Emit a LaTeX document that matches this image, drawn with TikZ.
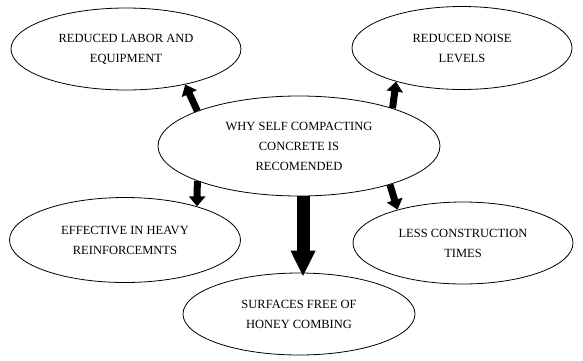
\documentclass[tikz,border=0pt]{standalone}
\usepackage{fontspec}
\setmainfont{Liberation Serif}
\usetikzlibrary{shapes.geometric,arrows.meta}
\tikzset{
  bubble/.style={ellipse, draw=black, line width=0.8pt, inner sep=0pt, align=center,
    font=\fontsize{12.5}{20}\selectfont},
  thinarrow/.style={line width=7pt, -{Triangle[length=10pt,width=16pt]}},
  bigarrow/.style={line width=13pt, -{Triangle[length=26pt,width=23pt]}}
}
\begin{document}
\begin{tikzpicture}[x=1pt,y=-1pt]
\useasboundingbox (0,0) rectangle (583,360);
\node[bubble, minimum width=230pt, minimum height=82pt] (tl) at (126,49) {REDUCED LABOR AND\\EQUIPMENT};
\node[bubble, minimum width=220pt, minimum height=83pt] (tr) at (462,48) {REDUCED NOISE\\LEVELS};
\node[bubble, minimum width=282pt, minimum height=100pt] (c) at (299,146) {WHY SELF COMPACTING\\CONCRETE IS\\RECOMENDED};
\node[bubble, minimum width=231pt, minimum height=85pt] (bl) at (125,240) {EFFECTIVE IN HEAVY\\REINFORCEMNTS};
\node[bubble, minimum width=220pt, minimum height=82pt] (br) at (463,243) {LESS CONSTRUCTION\\TIMES};
\node[bubble, minimum width=232pt, minimum height=82pt] (b) at (299,314) {SURFACES FREE OF\\HONEY COMBING};
\draw[thinarrow] (c.161.4) -- (tl.-31.5);
\draw[thinarrow] (c.22.7) -- (tr.207.6);
\draw[thinarrow] (c.199) -- (bl.25.2);
\draw[thinarrow] (c.-23.2) -- (br.153.4);
\draw[bigarrow] ([xshift=4pt]c.south) -- ([xshift=4pt,yshift=-4pt]b.north);
\end{tikzpicture}
\end{document}
